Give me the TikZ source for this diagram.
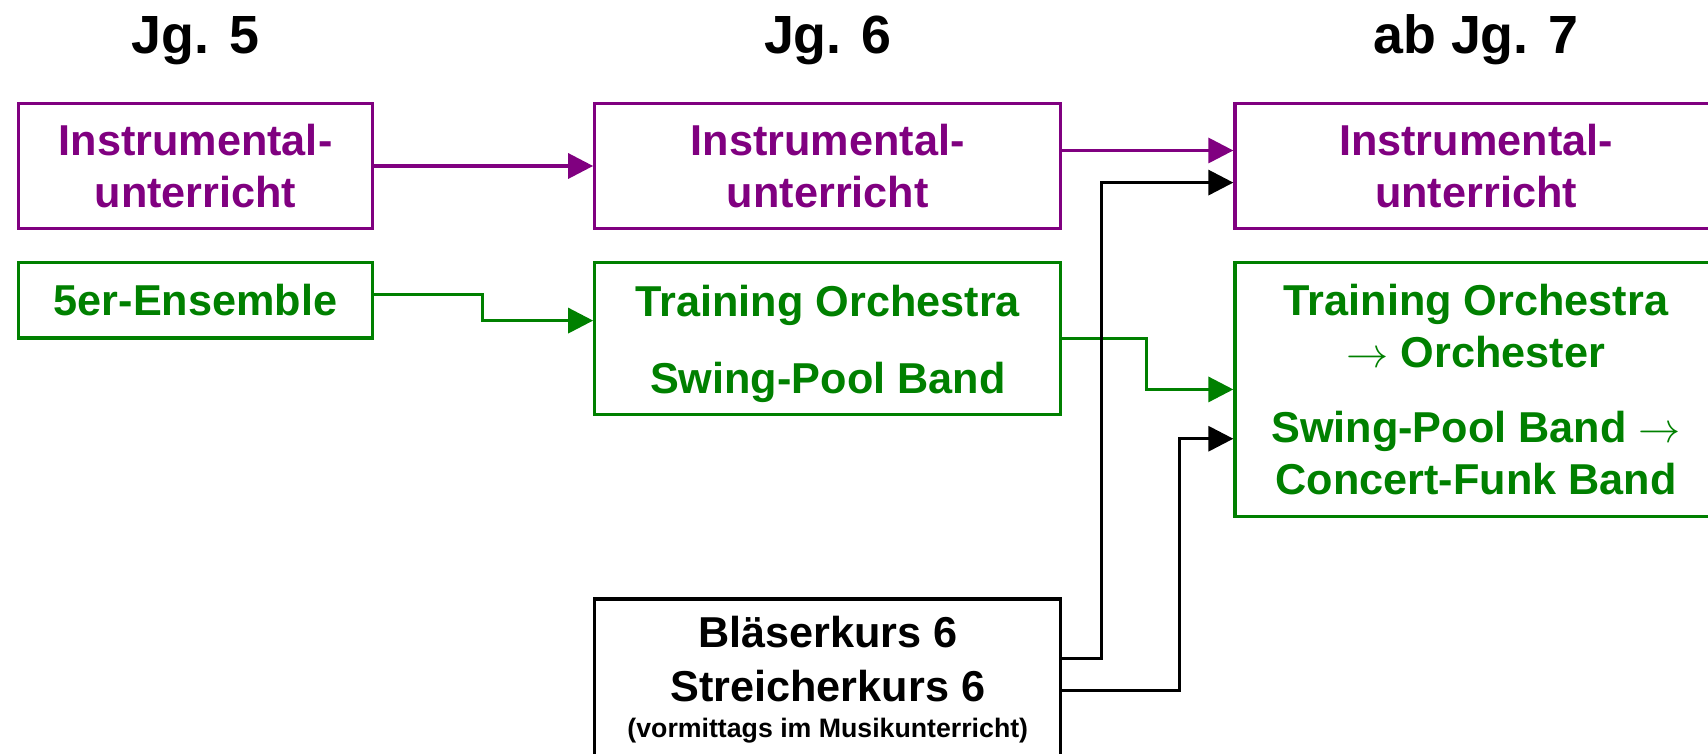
\documentclass[tikz,border=0pt]{standalone}
\usepackage{fontspec}
\setmainfont{Liberation Sans}
\usetikzlibrary{positioning, arrows.meta}
\definecolor{lila}{RGB}{128,0,128}
\definecolor{gruen}{RGB}{0,128,0}

\begin{document}
\begin{tikzpicture}[line width=0.033cm]
\tikzstyle{box} = [rectangle, draw, align=center, inner sep=0pt, font=\bfseries\fontsize{12.3}{14.8}\selectfont]
\tikzstyle{title} = [anchor=base, font=\bfseries\fontsize{15.3}{18}\selectfont]
\tikzstyle{arrow} = [->, >={Triangle[length=0.25cm, width=0.25cm]}]
\useasboundingbox (0,0) rectangle (17.08,-7.54);
 %Kaesten
\node (inst5) [box, lila, minimum width=3.54cm, minimum height=1.255cm] at (1.955,-1.66) {Instrumental-\\unterricht};
\node (ens5) [box, gruen, minimum width=3.54cm, minimum height=0.755cm, below=0.304cm of inst5] {5er-Ensemble};
\node (inst6) [box, lila, minimum width=4.66cm, minimum height=1.255cm, right=2.19cm of inst5] {Instrumental-\\unterricht};
\node (orch6) [box, gruen, minimum width=4.66cm, minimum height=1.523cm, below=0.304cm of inst6] {\rule{0pt}{0.42cm}Training Orchestra\\[7pt]Swing-Pool Band};
\node (kurs6) [box, minimum width=4.66cm, inner ysep=0.173cm, below=1.81cm of orch6] {Bläserkurs 6\\[0.4pt]Streicherkurs 6\\[-4.5pt]{\fontsize{7.6}{9}\selectfont (vormittags im Musikunterricht)\rule[-0.5cm]{0pt}{0.5cm}}};
\node (inst7) [box, lila, minimum width=4.82cm, minimum height=1.255cm, right=1.709cm of inst6] {Instrumental-\\unterricht};
\node (orch7) [box, gruen, minimum width=4.82cm, minimum height=2.54cm, below=0.304cm of inst7] {Training Orchestra\\$\rightarrow$ Orchester\\[6.6pt]Swing-Pool Band $\rightarrow$\\Concert-Funk Band};
 %Jahrgaenge
\node (jg5) [title] at ([yshift=0.483cm]inst5.north) {Jg. 5};
\node (jg6) [title] at ([yshift=0.483cm]inst6.north) {Jg. 6};
\node (jg7) [title] at ([yshift=0.483cm]inst7.north) {ab Jg. 7};

 %Pfeile
\draw [arrow, lila] (inst5) -- (inst6);
\draw [arrow, gruen] ([yshift=0.056cm]ens5.east) -- ++(1.08,0) |- ([yshift=0.18cm]orch6.west);
\draw [arrow, lila] ([yshift=0.155cm]inst6.east) -- ([yshift=0.155cm]inst7.west);
\draw [arrow, gruen] (orch6.east) -- ++(0.84,0) |- (orch7.west);
\draw [arrow] ([yshift=-0.61cm]kurs6.north east) -- ++(0.39,0) |- ([yshift=-0.166cm]inst7.west);
\draw [arrow] ([yshift=-0.931cm]kurs6.north east) -- ++(1.172,0) |- ([yshift=-0.493cm]orch7.west);
\end{tikzpicture}
\end{document}
